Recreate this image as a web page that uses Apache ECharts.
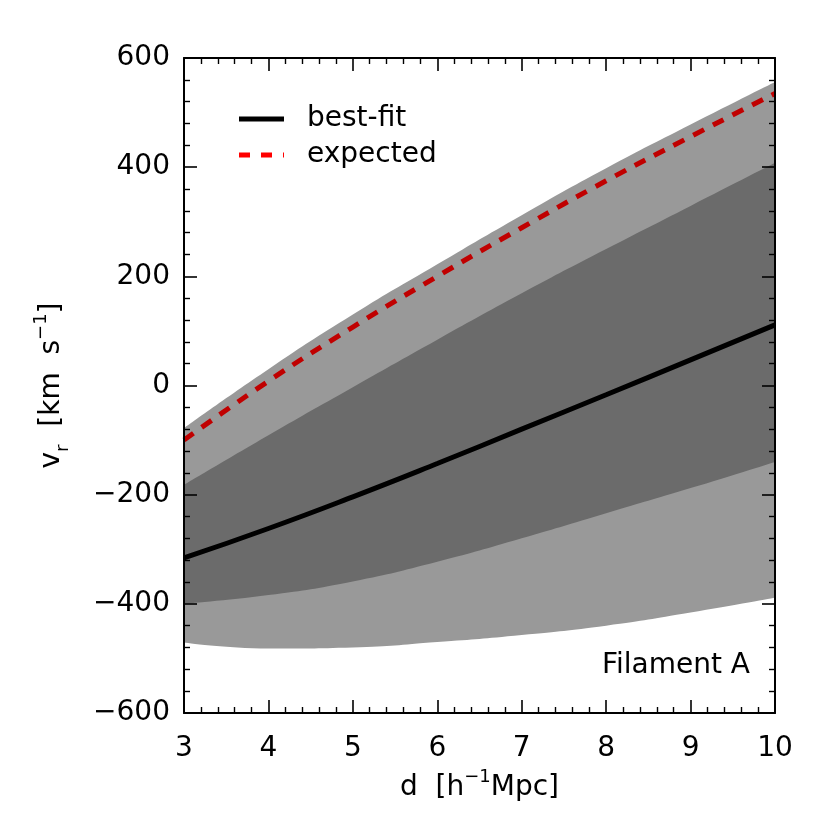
<!DOCTYPE html>
<html>
<head>
<meta charset="utf-8">
<script src="https://cdn.jsdelivr.net/npm/echarts@6/dist/echarts.min.js"></script>
<style>html,body{margin:0;padding:0;background:#fff}#c{width:830px;height:830px}</style>
</head>
<body>
<div id="c"></div>
<script>
// Data
const dValues      = [3, 4, 5, 6, 7, 8, 9, 10];
const outerBottom  = [-471, -482, -480, -470, -457, -440, -416, -389];
const innerBottom  = [-400, -384, -359, -323, -280, -234, -188, -140];
const innerTop     = [-182, -91, -3, 84, 169, 250, 329, 408];
const outerTop     = [-78, 30, 130, 222, 312, 398, 478, 556];
const bestFit      = [-316, -262, -204, -143, -80, -17, 47, 111];
const expected     = [-100, 8, 107, 200, 289, 375, 456, 535];
const xTicks = [3, 4, 5, 6, 7, 8, 9, 10];
const yTicks = [-600, -400, -200, 0, 200, 400, 600];

const FONT = 'DejaVu Sans';
const pairs = (ys) => dValues.map((x, i) => [x, ys[i]]);

const chart = echarts.init(document.getElementById('c'), null, {renderer: 'canvas'});

const axisCommon = {
  axisLine: {show: true, onZero: false, lineStyle: {color: '#000', width: 2}},
  axisTick: {show: true, inside: true, length: 13, lineStyle: {color: '#000', width: 1.6}},
  minorTick: {show: true, splitNumber: 5, length: 6, lineStyle: {color: '#000', width: 1.4}},
  splitLine: {show: false},
  z: 10
};

// Layered areas filled from the bottom of the plot; painted in order so each
// later layer covers the part below its own edge.
const layer = (name, ys, color, z) => ({
  name, type: 'line', data: pairs(ys), smooth: true, showSymbol: false,
  symbol: 'none', lineStyle: {width: 0, opacity: 0},
  areaStyle: {color, opacity: 1, origin: 'start'},
  silent: true, z
});

chart.setOption({
  animation: false,
  backgroundColor: '#fff',
  grid: {left: 184, right: 55, top: 58, bottom: 117, containLabel: false},
  xAxis: [
    Object.assign({}, axisCommon, {
      type: 'value', min: 3, max: 10, interval: 1, position: 'bottom',
      axisLabel: {show: true, margin: 22, fontFamily: FONT, fontSize: 28, color: '#000',
        customValues: xTicks},
      name: 'd  [h{sup|−1}Mpc]',
      nameLocation: 'middle', nameGap: 50,
      nameTextStyle: {fontFamily: FONT, fontSize: 28, color: '#000', lineHeight: 40,
        rich: {sup: {fontFamily: FONT, fontSize: 18, verticalAlign: 'top', lineHeight: 40, color: '#000'}}}
    }),
    Object.assign({}, axisCommon, {
      type: 'value', min: 3, max: 10, interval: 1, position: 'top',
      axisLabel: {show: false}
    })
  ],
  yAxis: [
    Object.assign({}, axisCommon, {
      type: 'value', min: -600, max: 600, interval: 200, position: 'left',
      axisLabel: {show: true, margin: 14, fontFamily: FONT, fontSize: 28, color: '#000',
        formatter: (v) => (v < 0 ? '−' + Math.abs(v) : String(v))},
      name: 'v{sub|r}  [km  s{sup|−1}]',
      nameLocation: 'middle', nameGap: 112, nameRotate: 90,
      nameTextStyle: {fontFamily: FONT, fontSize: 28, color: '#000', lineHeight: 40,
        rich: {
          sub: {fontFamily: FONT, fontSize: 18, verticalAlign: 'bottom', lineHeight: 40, color: '#000'},
          sup: {fontFamily: FONT, fontSize: 18, verticalAlign: 'top', lineHeight: 40, color: '#000'}
        }}
    }),
    Object.assign({}, axisCommon, {
      type: 'value', min: -600, max: 600, interval: 200, position: 'right',
      axisLabel: {show: false}
    })
  ],
  series: [
    layer('outerTop', outerTop, '#999999', 1),
    layer('innerTop', innerTop, '#6b6b6b', 2),
    layer('innerBottom', innerBottom, '#999999', 3),
    layer('outerBottom', outerBottom, '#ffffff', 4),
    {
      name: 'best-fit', type: 'line', data: pairs(bestFit), smooth: true,
      showSymbol: false, symbol: 'none',
      lineStyle: {color: '#000', width: 5}, z: 6, silent: true
    },
    {
      name: 'expected', type: 'line', data: pairs(expected), smooth: true,
      showSymbol: false, symbol: 'none',
      lineStyle: {color: '#c00000', width: 5, type: [12, 10]}, z: 7, silent: true
    }
  ],
  graphic: [
    {type: 'line', shape: {x1: 239, y1: 119, x2: 284, y2: 119},
      style: {stroke: '#000', lineWidth: 5}, z: 20},
    {type: 'text', x: 307, y: 119,
      style: {text: 'best-fit', fontFamily: FONT, fontSize: 28, fill: '#000', textVerticalAlign: 'middle', verticalAlign: 'middle'}, z: 20},
    {type: 'line', shape: {x1: 239, y1: 155, x2: 284, y2: 155},
      style: {stroke: '#ff0000', lineWidth: 5, lineDash: [11, 11]}, z: 20},
    {type: 'text', x: 307, y: 155,
      style: {text: 'expected', fontFamily: FONT, fontSize: 28, fill: '#000', textVerticalAlign: 'middle', verticalAlign: 'middle'}, z: 20},
    {type: 'text', x: 750, y: 666,
      style: {text: 'Filament A', fontFamily: FONT, fontSize: 28, fill: '#000', align: 'right', textAlign: 'right', verticalAlign: 'middle', textVerticalAlign: 'middle'}, z: 20}
  ]
});
</script>
</body>
</html>
